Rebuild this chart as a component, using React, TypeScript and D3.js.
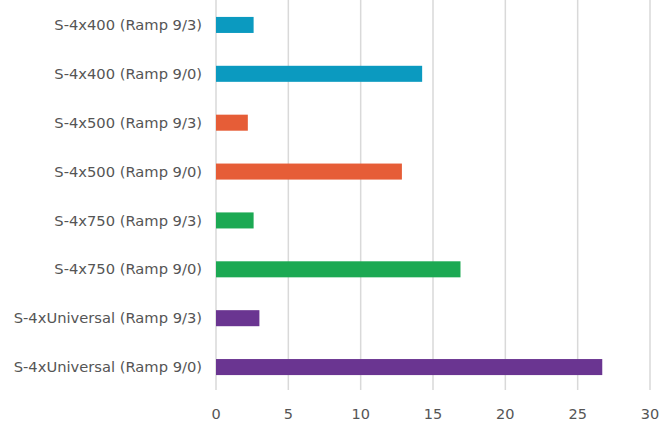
import React, { useEffect, useRef } from 'react';
import * as d3 from 'd3';

const categories = [
    'S-4x400 (Ramp 9/3)',
    'S-4x400 (Ramp 9/0)',
    'S-4x500 (Ramp 9/3)',
    'S-4x500 (Ramp 9/0)',
    'S-4x750 (Ramp 9/3)',
    'S-4x750 (Ramp 9/0)',
    'S-4xUniversal (Ramp 9/3)',
    'S-4xUniversal (Ramp 9/0)',
];
const values = [2.6, 14.25, 2.2, 12.85, 2.6, 16.9, 3.0, 26.7];
const barColors = ['#0b9ac0', '#0b9ac0', '#e65d37', '#e65d37', '#1ca953', '#1ca953', '#6a3591', '#6a3591'];
const xTicks = [0, 5, 10, 15, 20, 25, 30];

function drawChart(svgRoot: SVGSVGElement) {
    const width = 670;
    const height = 425;
    const margin = { top: 0, right: 20, bottom: 35, left: 216 };

    const svg = d3.select(svgRoot);
    svg.selectChildren().remove();
    svg.attr('viewBox', [0, 0, width, height] as any)
        .attr('width', width)
        .attr('height', height);

    const x = d3.scaleLinear().domain([0, 30]).range([margin.left, 650]);
    const y = d3.scaleBand<string>()
        .domain(categories)
        .range([0.5, 391.5])
        .paddingInner(0.672)
        .paddingOuter(0.336);

    const g = svg.append('g');

    // grid lines
    g.append('g')
        .selectAll('line')
        .data(xTicks)
        .enter().append('line')
        .attr('x1', (d) => x(d))
        .attr('x2', (d) => x(d))
        .attr('y1', 0)
        .attr('y2', 390)
        .attr('stroke', '#d9d9d9')
        .attr('stroke-width', 1.5);

    // x tick labels
    g.append('g')
        .selectAll('text')
        .data(xTicks)
        .enter().append('text')
        .attr('x', (d) => x(d))
        .attr('y', 414)
        .attr('dy', '0.35em')
        .attr('text-anchor', 'middle')
        .attr('font-family', 'DejaVu Sans, sans-serif')
        .attr('font-size', 14.5)
        .attr('fill', '#555')
        .text((d) => d);

    // category labels
    g.append('g')
        .selectAll('text')
        .data(categories)
        .enter().append('text')
        .attr('x', 202)
        .attr('y', (d) => (y(d) ?? 0) + y.bandwidth() / 2)
        .attr('dy', '0.35em')
        .attr('text-anchor', 'end')
        .attr('font-family', 'DejaVu Sans, sans-serif')
        .attr('font-size', 14.7)
        .attr('fill', '#555')
        .text((d) => d);

    // bars
    g.append('g')
        .selectAll('rect')
        .data(values)
        .enter().append('rect')
        .attr('x', x(0))
        .attr('y', (d, i) => y(categories[i]) ?? 0)
        .attr('width', (d) => x(d) - x(0))
        .attr('height', y.bandwidth())
        .attr('fill', (d, i) => barColors[i]);
}

export default function App() {
    const svgRef = useRef<SVGSVGElement>(null);

    useEffect(() => {
        svgRef.current && drawChart(svgRef.current);
    }, []);

    return (
        <svg ref={svgRef} style={{ position: 'absolute', left: 0, top: 0, background: '#fff' }} />
    );
}
